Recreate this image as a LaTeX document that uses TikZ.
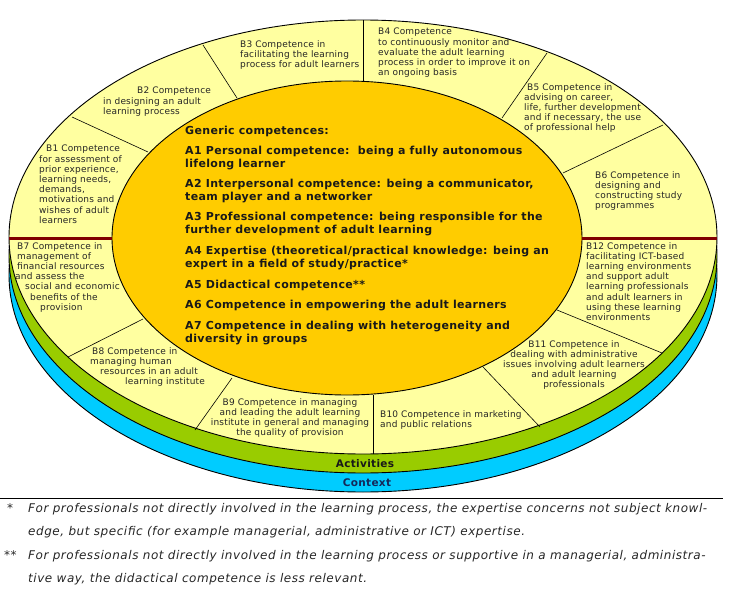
\documentclass[tikz,border=0pt]{standalone}
\usepackage{fontspec}
\setmainfont{DejaVu Sans}
\usepackage{tikz}
\usetikzlibrary{positioning}

\definecolor{bandyellow}{RGB}{255,255,160}
\definecolor{coreorange}{RGB}{255,204,0}
\definecolor{actgreen}{RGB}{153,204,0}
\definecolor{ctxblue}{RGB}{0,204,255}
\definecolor{splitred}{RGB}{128,0,0}
\definecolor{ctxtext}{RGB}{20,40,90}

\tikzset{
  ring/.style={draw=black,line width=0.9pt},
  split/.style={draw=black,line width=0.6pt},
  lbl/.style={anchor=north west,inner sep=0pt,align=left,text=black!85,
    font=\fontsize{9}{10.2}\selectfont\addfontfeatures{LetterSpace=2}},
  gen/.style={anchor=north west,inner sep=0pt,align=left,text=black!90,
    font=\bfseries\fontsize{11}{12.8}\selectfont\addfontfeatures{LetterSpace=3}},
  band/.style={font=\bfseries\fontsize{10.5}{12}\selectfont\addfontfeatures{LetterSpace=3}},
  note/.style={anchor=north west,inner sep=0pt,align=left,text=black!85,
    font=\itshape\fontsize{12}{23.5}\selectfont\addfontfeatures{LetterSpace=4.5}}
}

\begin{document}
\begin{tikzpicture}[x=1pt,y=-1pt]
  \useasboundingbox (0,0) rectangle (732,610); % 図全体の大きさ
  \filldraw[ring,fill=ctxblue] (363,275) ellipse [x radius=354pt,y radius=217pt]; % Context の帯
  \filldraw[ring,fill=actgreen] (363,256) ellipse [x radius=354pt,y radius=217pt]; % Activities の帯
  \filldraw[ring,fill=bandyellow] (363,237) ellipse [x radius=354pt,y radius=217pt]; % B の外側の輪
  \filldraw[ring,fill=coreorange] (347,238) ellipse [x radius=235pt,y radius=157pt]; % A の中心部分
  \draw[split] (72,117) -- (148,152); % B1 と B2 の境
  \draw[split] (203,45) -- (237,98); % B2 と B3 の境
  \draw[split] (363,20) -- (363,81); % B3 と B4 の境
  \draw[split] (547,53) -- (502,118); % B4 と B5 の境
  \draw[split] (663,125) -- (563,173); % B5 と B6 の境
  \draw[split] (662,353) -- (557,310); % B11 と B12 の境
  \draw[split] (540,427) -- (483,367); % B10 と B11 の境
  \draw[split] (373,454) -- (373,395); % B9 と B10 の境
  \draw[split] (195,430) -- (232,378); % B8 と B9 の境
  \draw[split] (68,357) -- (143,319); % B7 と B8 の境
  \draw[splitred,line width=3pt] (9,238) -- (112,238); % 左の赤い区切り線
  \draw[splitred,line width=3pt] (582,238) -- (717,238); % 右の赤い区切り線

  \node[lbl] (b1) at (39,145) {\hspace*{7pt}B1 Competence\\for assessment of\\prior experience,\\learning needs,\\demands,\\motivations and\\wishes of adult\\learners};
  \node[lbl] (b2) at (103,87) {\hspace*{34pt}B2 Competence\\in designing an adult\\learning process};
  \node[lbl] (b3) at (240,40) {B3 Competence in\\facilitating the learning\\process for adult learners};
  \node[lbl] (b4) at (378,28) {B4 Competence\\to continuously monitor and\\evaluate the adult learning\\process in order to improve it on\\an ongoing basis};
  \node[lbl] (b5) at (524,83) {\hspace*{3pt}B5 Competence in\\advising on career,\\life, further development\\and if necessary, the use\\of professional help};
  \node[lbl] (b6) at (595,171) {B6 Competence in\\designing and\\constructing study\\programmes};
  \node[lbl] (b7) at (15,242) {\hspace*{2pt}B7 Competence in\\\hspace*{2pt}management of\\\hspace*{2pt}financial resources\\and assess the\\\hspace*{10pt}social and economic\\\hspace*{15pt}benefits of the\\\hspace*{25pt}provision};
  \node[lbl] (b8) at (90,347) {\hspace*{2pt}B8 Competence in\\managing human\\\hspace*{10pt}resources in an adult\\\hspace*{35pt}learning institute};
  \node[lbl,anchor=north,align=center] (b9) at (290,398) {B9 Competence in managing\\and leading the adult learning\\institute in general and managing\\the quality of provision};
  \node[lbl] (b10) at (380,410) {B10 Competence in marketing\\and public relations};
  \node[lbl,anchor=north,align=center] (b11) at (574,340) {B11 Competence in\\dealing with administrative\\issues involving adult learners\\and adult learning\\professionals};
  \node[lbl] (b12) at (586,242) {B12 Competence in\\facilitating ICT-based\\learning environments\\and support adult\\learning professionals\\and adult learners in\\using these learning\\environments};

  \node[gen] (a0) at (185,126) {Generic competences:};
  \node[gen] (a1) at (185,146) {A1 Personal competence:\ \ being a fully autonomous\\lifelong learner};
  \node[gen] (a2) at (185,179) {A2 Interpersonal competence: being a communicator,\\team player and a networker};
  \node[gen] (a3) at (185,212) {A3 Professional competence: being responsible for the\\further development of adult learning};
  \node[gen] (a4) at (185,246) {A4 Expertise (theoretical/practical knowledge: being an\\expert in a field of study/practice*};
  \node[gen] (a5) at (185,280) {A5 Didactical competence**};
  \node[gen] (a6) at (185,300) {A6 Competence in empowering the adult learners};
  \node[gen] (a7) at (185,321) {A7 Competence in dealing with heterogeneity and\\diversity in groups};

  \node[band,text=black!90] (act) at (365,464) {Activities};
  \node[band,text=ctxtext] (ctx) at (367,483) {Context};

  \draw[line width=0.8pt] (0,498) -- (723,498); % 脚注の上の線
  \node[note] (s1) at (7,503) {*};
  \node[note] (fn1) at (28,503) {For professionals not directly involved in the learning process, the expertise concerns not subject knowl-\\edge, but specific (for example managerial, administrative or ICT) expertise.};
  \node[note] (s2) at (4,550) {**};
  \node[note] (fn2) at (28,550) {For professionals not directly involved in the learning process or supportive in a managerial, administra-\\tive way, the didactical competence is less relevant.};
\end{tikzpicture}
\end{document}
